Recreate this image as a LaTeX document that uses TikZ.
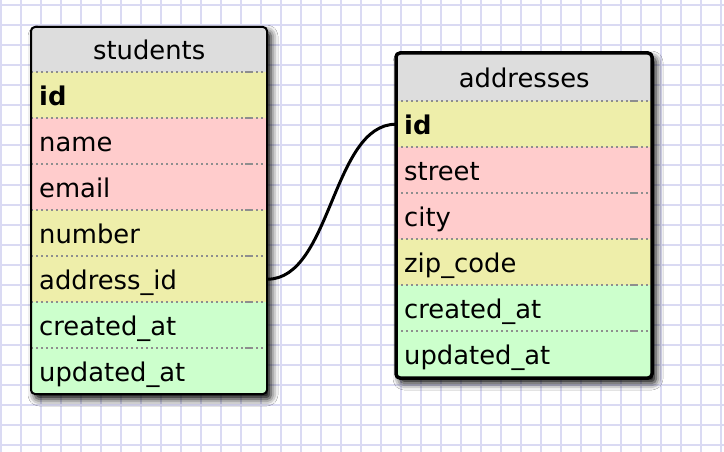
\documentclass[tikz,border=0pt]{standalone}
\usepackage{fontspec}
\setmainfont{DejaVu Sans}
\usetikzlibrary{shadows.blur}
\definecolor{gridc}{HTML}{DADAF3}
\definecolor{hdrc}{HTML}{DDDDDD}
\definecolor{keyc}{HTML}{EEEEAA}
\definecolor{reqc}{HTML}{FFCCCC}
\definecolor{optc}{HTML}{CCFFCC}
\definecolor{sepc}{HTML}{8E8E8E}
\tikzset{
  gridline/.style={draw=gridc, line width=1.8pt},
  cell/.style={rectangle, anchor=north west, inner xsep=8pt, inner ysep=0pt,
    text height=20pt, text depth=0pt, align=left, font=\fontsize{25.8}{30}\selectfont},
  srow/.style={cell, minimum height=46pt, text width=220pt},
  arow/.style={cell, minimum height=46pt, text width=240pt},
  shdr/.style={srow, minimum height=45pt, fill=hdrc, align=center},
  ahdr/.style={arow, minimum height=48pt, fill=hdrc, align=center},
  sep/.style={draw=sepc, line width=1.8pt, dash pattern=on 2pt off 3pt},
  sepend/.style={draw=sepc, line width=1.8pt},
  tshadow/.style={fill=white, rounded corners=4pt,
    blur shadow={shadow xshift=4pt, shadow yshift=-5pt, shadow blur radius=7pt, shadow opacity=100}},
  conn/.style={draw=black, line width=3pt}
}
\begin{document}
\begin{tikzpicture}[x=1pt,y=-1pt]
\useasboundingbox (0,0) rectangle (724,452);
\fill[white] (0,0) rectangle (724,452);
\foreach \gx in {1,21,...,721} \draw[gridline] (\gx,0) -- (\gx,452);
\foreach \gy in {5,25,...,445} \draw[gridline] (0,\gy) -- (724,\gy);

% ---------- students ----------
\path[tshadow] (31,27) rectangle (267,394);
\begin{scope}
\clip[rounded corners=4pt] (31,27) rectangle (267,394);
\node[shdr] (s-hdr) at (31,27) {students};
\node[srow, fill=keyc] (s-id) at (31,72) {\textbf{id}};
\node[srow, fill=reqc] (s-name) at (31,118) {name};
\node[srow, fill=reqc] (s-email) at (31,164) {email};
\node[srow, fill=keyc] (s-number) at (31,210) {number};
\node[srow, fill=keyc] (s-addr) at (31,256) {address\_id};
\node[srow, fill=optc] (s-created) at (31,302) {created\_at};
\node[srow, fill=optc] (s-updated) at (31,348) {updated\_at};
\end{scope}
\foreach \r in {s-id,s-name,s-email,s-number,s-addr,s-created,s-updated}{
  \draw[sep] (\r.north west) -- (\r.north east);
  \draw[sepend] ([xshift=-22pt]\r.north east) -- ([xshift=-16pt]\r.north east);
}
\draw[black, line width=2pt, rounded corners=4pt] (31,27) rectangle (267,394);

% ---------- addresses ----------
\path[tshadow] (396,53) rectangle (652,378);
\begin{scope}
\clip[rounded corners=4pt] (396,53) rectangle (652,378);
\node[ahdr] (a-hdr) at (396,53) {addresses};
\node[arow, fill=keyc] (a-id) at (396,101) {\textbf{id}};
\node[arow, fill=reqc] (a-street) at (396,147) {street};
\node[arow, fill=reqc] (a-city) at (396,193) {city};
\node[arow, fill=keyc] (a-zip) at (396,239) {zip\_code};
\node[arow, fill=optc] (a-created) at (396,285) {created\_at};
\node[arow, fill=optc] (a-updated) at (396,331) {updated\_at};
\end{scope}
\foreach \r in {a-id,a-street,a-city,a-zip,a-created,a-updated}{
  \draw[sep] (\r.north west) -- (\r.north east);
  \draw[sepend] ([xshift=-22pt]\r.north east) -- ([xshift=-16pt]\r.north east);
}
\draw[black, line width=3.5pt, rounded corners=4pt] (396,53) rectangle (652,378);

% ---------- connector ----------
\draw[conn] (s-addr.east) .. controls +(64,0) and +(-64,0) .. (a-id.west);
\end{tikzpicture}
\end{document}
